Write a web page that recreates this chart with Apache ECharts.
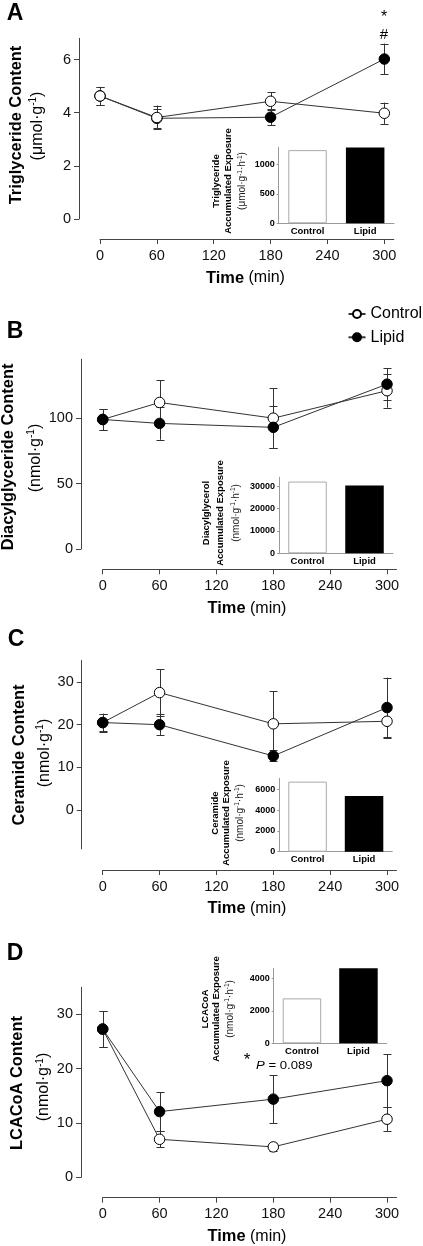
<!DOCTYPE html>
<html><head><meta charset="utf-8">
<script src="https://cdn.jsdelivr.net/npm/echarts@6/dist/echarts.min.js"></script>
<style>html,body{margin:0;padding:0;background:#fff}#c{width:423px;height:1246px}</style>
</head><body><div id="c"></div>
<script>
// ---------- data ----------
const times = [0, 60, 180, 300];
const xTicks = [0, 60, 120, 180, 240, 300];
const groups = ['Control', 'Lipid'];

// A: Triglyceride (µmol/g)
const tgControl = [4.63, 3.82, 4.43, 3.98];
const tgControlSem = [0.34, 0.45, 0.34, 0.40];
const tgLipid = [4.63, 3.79, 3.83, 6.02];
const tgLipidSem = [0.34, 0.35, 0.31, 0.58];
const tgTicks = [0, 2, 4, 6];
const tgExposure = [1242, 1288];
const tgExposureTicks = [0, 500, 1000];

// B: Diacylglyceride (nmol/g)
const dagControl = [99, 112, 100, 121];
const dagControlSem = [8, 17, 23, 13];
const dagLipid = [99, 96, 93, 126];
const dagLipidSem = [8, 12.5, 16, 12];
const dagTicks = [0, 50, 100];
const dagExposure = [32100, 30300];
const dagExposureTicks = [0, 10000, 20000, 30000];

// C: Ceramide (nmol/g)
const cerControl = [20.5, 27.5, 20.2, 20.8];
const cerControlSem = [2.1, 5.4, 7.6, 3.6];
const cerLipid = [20.5, 20.0, 12.7, 24.0];
const cerLipidSem = [2.0, 2.4, 1.3, 7.0];
const cerTicks = [0, 10, 20, 30];
const cerExposure = [6730, 5350];
const cerExposureTicks = [0, 2000, 4000, 6000];

// D: LCACoA (nmol/g)
const lcaControl = [27.3, 7.0, 5.6, 10.7];
const lcaControlSem = [3.3, 1.5, 0.7, 2.2];
const lcaLipid = [27.3, 12.1, 14.4, 17.8];
const lcaLipidSem = [3.3, 3.6, 4.4, 4.9];
const lcaTicks = [0, 10, 20, 30];
const lcaExposure = [2780, 4640];
const lcaExposureTicks = [0, 2000, 4000];

// ---------- layout ----------
const FONT = "'Liberation Sans', Arial, Helvetica, sans-serif";
const AX = '#444', AXI = '#999';
const panels = [
  {c: tgControl, cs: tgControlSem, l: tgLipid, ls: tgLipidSem, yt: tgTicks, ymin: 0, ymax: 6.8,
   g: {left: 100, top: 38.3, width: 293.8, height: 180.7}, yOff: 21, xOff: 20, controlOnTop: true,
   e: tgExposure, et: tgExposureTicks, emax: 1290, ig: {left: 278.7, top: 147.3, width: 115.3, height: 76}},
  {c: dagControl, cs: dagControlSem, l: dagLipid, ls: dagLipidSem, yt: dagTicks, ymin: 0, ymax: 145,
   g: {left: 102.7, top: 359.3, width: 293.8, height: 189.7}, yOff: 21.7, xOff: 20.3, controlOnTop: false,
   e: dagExposure, et: dagExposureTicks, emax: 34000, ig: {left: 279, top: 477.3, width: 114, height: 76}},
  {c: cerControl, cs: cerControlSem, l: cerLipid, ls: cerLipidSem, yt: cerTicks, ymin: -9, ymax: 35,
   g: {left: 102.7, top: 660.5, width: 293.8, height: 188.3}, yOff: 21, xOff: 21.2, controlOnTop: false,
   e: cerExposure, et: cerExposureTicks, emax: 7050, ig: {left: 279.3, top: 778.3, width: 113, height: 73.4}},
  {c: lcaControl, cs: lcaControlSem, l: lcaLipid, ls: lcaLipidSem, yt: lcaTicks, ymin: 0, ymax: 35,
   g: {left: 102.7, top: 987.3, width: 293.8, height: 190}, yOff: 21.7, xOff: 20.4, controlOnTop: false,
   e: lcaExposure, et: lcaExposureTicks, emax: 4640, ig: {left: 273.7, top: 968.3, width: 113, height: 75}}
];

function renderErr(params, api) {
  const x = api.value(0), lo = api.value(1), hi = api.value(2);
  const a = api.coord([x, hi]), b = api.coord([x, lo]);
  const cx = Math.round(a[0]) + 0.5, w = 4;
  const st = {stroke: '#333', lineWidth: 1};
  return {type: 'group', children: [
    {type: 'line', shape: {x1: cx, y1: a[1], x2: cx, y2: b[1]}, style: st},
    {type: 'line', shape: {x1: cx - w, y1: Math.round(a[1]) + 0.5, x2: cx + w, y2: Math.round(a[1]) + 0.5}, style: st},
    {type: 'line', shape: {x1: cx - w, y1: Math.round(b[1]) + 0.5, x2: cx + w, y2: Math.round(b[1]) + 0.5}, style: st}
  ]};
}

const grid = [], xAxis = [], yAxis = [], series = [];
panels.forEach((p, i) => {
  const gm = 2 * i, gi = 2 * i + 1;
  grid.push(Object.assign({}, p.g), Object.assign({}, p.ig));
  xAxis.push({
    type: 'value', gridIndex: gm, min: 0, max: 310, offset: p.xOff, position: 'bottom',
    axisLine: {show: true, onZero: false, lineStyle: {color: AX, width: 1}},
    axisTick: {show: true, length: 5, lineStyle: {color: AX}, customValues: xTicks},
    axisLabel: {customValues: xTicks, fontSize: 14.5, fontFamily: FONT, color: '#111', margin: 9},
    splitLine: {show: false}
  }, {
    type: 'category', gridIndex: gi, data: groups,
    axisLine: {show: true, onZero: false, lineStyle: {color: AXI, width: 1}},
    axisTick: {show: false},
    axisLabel: {fontSize: 9.5, fontWeight: 'bold', fontFamily: FONT, color: '#000', margin: 3},
    splitLine: {show: false}
  });
  yAxis.push({
    type: 'value', gridIndex: gm, min: p.ymin, max: p.ymax, offset: p.yOff,
    axisLine: {show: true, onZero: false, lineStyle: {color: AX, width: 1}},
    axisTick: {show: true, length: 5, lineStyle: {color: AX}, customValues: p.yt},
    axisLabel: {customValues: p.yt, fontSize: 14.5, fontFamily: FONT, color: '#111', margin: 8},
    splitLine: {show: false}
  }, {
    type: 'value', gridIndex: gi, min: 0, max: p.emax,
    axisLine: {show: true, onZero: false, lineStyle: {color: AXI, width: 1}},
    axisTick: {show: true, length: 2, lineStyle: {color: AXI}, customValues: p.et},
    axisLabel: {customValues: p.et, formatter: (v) => String(v), fontSize: 9, fontWeight: 'bold', fontFamily: FONT, color: '#000', margin: 4},
    splitLine: {show: false}
  });
  const errC = times.map((t, k) => [t, p.c[k] - p.cs[k], p.c[k] + p.cs[k]]);
  const errL = times.map((t, k) => [t, p.l[k] - p.ls[k], p.l[k] + p.ls[k]]);
  const ctrlLine = {type: 'line', name: 'Control', xAxisIndex: gm, yAxisIndex: gm, clip: false, z: 3,
     data: times.map((t, k) => [t, p.c[k]]), symbol: 'circle', symbolSize: 10.5,
     lineStyle: {color: '#333', width: 1}, itemStyle: {color: '#fff', borderColor: '#000', borderWidth: 1}, silent: true};
  const lipLine = {type: 'line', name: 'Lipid', xAxisIndex: gm, yAxisIndex: gm, clip: false, z: 3,
     data: times.map((t, k) => [t, p.l[k]]), symbol: 'circle', symbolSize: 10.5,
     lineStyle: {color: '#333', width: 1}, itemStyle: {color: '#000', borderColor: '#000', borderWidth: 1}, silent: true};
  series.push(
    {type: 'custom', name: 'Control SEM', xAxisIndex: gm, yAxisIndex: gm, renderItem: renderErr, data: errC, encode: {x: 0, y: [1, 2]}, silent: true, z: 1},
    {type: 'custom', name: 'Lipid SEM', xAxisIndex: gm, yAxisIndex: gm, renderItem: renderErr, data: errL, encode: {x: 0, y: [1, 2]}, silent: true, z: 1}
  );
  if (p.controlOnTop) series.push(lipLine, ctrlLine); else series.push(ctrlLine, lipLine);
  series.push(
    {type: 'bar', name: 'Exposure ' + i, xAxisIndex: gi, yAxisIndex: gi, barWidth: 38.5, silent: true,
     data: [{value: p.e[0], itemStyle: {color: '#fff', borderColor: '#aaa', borderWidth: 1}},
            {value: p.e[1], itemStyle: {color: '#000'}}]}
  );
});

// ---------- text ----------
const richMain = {
  b: {fontSize: 16.4, fontWeight: 'bold', fontFamily: FONT, fill: '#000'},
  n: {fontSize: 16, fontFamily: FONT, fill: '#000', lineHeight: 18},
  s: {fontSize: 10, fontFamily: FONT, fill: '#000', verticalAlign: 'top', lineHeight: 10}
};
const richInset = {
  b: {fontSize: 9.5, fontWeight: 'bold', fontFamily: FONT, fill: '#000'},
  n: {fontSize: 10, fontFamily: FONT, fill: '#222', lineHeight: 12},
  s: {fontSize: 6.5, fontFamily: FONT, fill: '#222', verticalAlign: 'top', lineHeight: 7}
};
function txt(x, y, text, rich, rot, extra) {
  return Object.assign({type: 'text', x: x, y: y, rotation: rot ? Math.PI / 2 : 0, silent: true,
    style: {text: text, rich: rich, align: 'center', verticalAlign: 'middle', fill: '#000',
      font: '16px ' + FONT}}, extra || {});
}
const mainUnit = (u) => '{n|(' + u + 'mol·g}{s|-1}{n|)}';
const insetUnit = (u) => '{n|(' + u + 'mol·g}{s|-1}{n|·h}{s|-1}{n|)}';
const letter = (x, y, s) => ({type: 'text', x: x, y: y, silent: true,
  style: {text: s, font: 'bold 23px ' + FONT, fill: '#000', align: 'center', verticalAlign: 'middle'}});
const timeLbl = (x, y) => txt(x, y, '{b|Time} {n|(min)}', richMain, false);

const graphic = [
  letter(15, 13.5, 'A'), letter(15, 332, 'B'), letter(16, 639.5, 'C'), letter(15, 953.5, 'D'),
  txt(16, 125, '{b|Triglyceride Content}', richMain, true),
  txt(37.3, 126, mainUnit('μ'), richMain, true),
  txt(8, 457, '{b|Diacylglyceride Content}', richMain, true),
  txt(35.5, 458, mainUnit('n'), richMain, true),
  txt(19, 755, '{b|Ceramide Content}', richMain, true),
  txt(44.5, 753, mainUnit('n'), richMain, true),
  txt(17.5, 1083, '{b|LCACoA Content}', richMain, true),
  txt(44, 1087, mainUnit('n'), richMain, true),
  timeLbl(245.5, 278), timeLbl(247, 608.3), timeLbl(247, 908.3), timeLbl(247, 1236.7),
  txt(216, 181, '{b|Triglyceride}', richInset, true),
  txt(228.3, 181, '{b|Accumulated Exposure}', richInset, true),
  txt(242.7, 181, insetUnit('μ'), richInset, true),
  txt(206.7, 513, '{b|Diacylglycerol}', richInset, true),
  txt(220.7, 513, '{b|Accumulated Exposure}', richInset, true),
  txt(236, 513, insetUnit('n'), richInset, true),
  txt(215, 813, '{b|Ceramide}', richInset, true),
  txt(226.7, 813, '{b|Accumulated Exposure}', richInset, true),
  txt(240, 813, insetUnit('n'), richInset, true),
  txt(205, 1009, '{b|LCACoA}', richInset, true),
  txt(216.7, 1009, '{b|Accumulated Exposure}', richInset, true),
  txt(230, 1009, insetUnit('n'), richInset, true),
  {type: 'text', x: 384, y: 18, silent: true, style: {text: '*', font: '16px ' + FONT, fill: '#000', align: 'center', verticalAlign: 'middle'}},
  {type: 'text', x: 384, y: 35, silent: true, style: {text: '#', font: '15px ' + FONT, fill: '#000', align: 'center', verticalAlign: 'middle'}},
  {type: 'text', x: 247, y: 1060, silent: true, style: {text: '*', font: '17px ' + FONT, fill: '#000', align: 'center', verticalAlign: 'middle'}},
  {type: 'text', x: 256, y: 1066, scaleX: 1.25, silent: true, style: {
    text: '{i|P} = 0.089', font: '10.5px ' + FONT, fill: '#000', align: 'left', verticalAlign: 'middle',
    rich: {i: {fontStyle: 'italic', fontSize: 10.5, fontFamily: FONT, fill: '#000'}}}}
];

const chart = echarts.init(document.getElementById('c'), null, {renderer: 'canvas'});
chart.setOption({
  animation: false,
  backgroundColor: '#fff',
  legend: {data: ['Control', 'Lipid'], orient: 'vertical', left: 347.5, top: 306, padding: 0,
    itemWidth: 17, itemHeight: 10, itemGap: 7.3, selectedMode: false,
    textStyle: {fontSize: 16, fontFamily: FONT, color: '#000'}},
  grid: grid, xAxis: xAxis, yAxis: yAxis, series: series, graphic: graphic
});
</script>
</body></html>
